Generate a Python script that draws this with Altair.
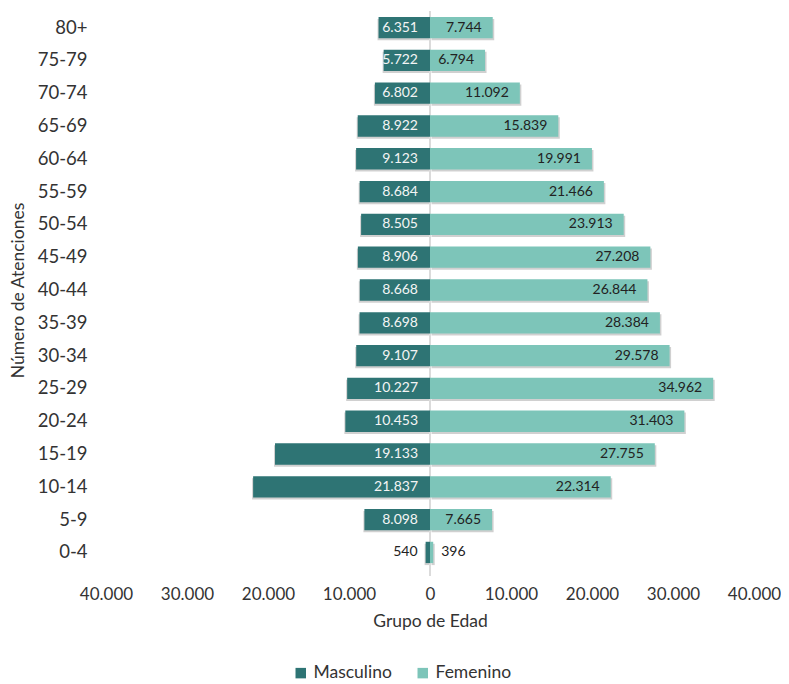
import altair as alt
import pandas as pd

ages = ["80+", "75-79", "70-74", "65-69", "60-64", "55-59", "50-54", "45-49", "40-44",
        "35-39", "30-34", "25-29", "20-24", "15-19", "10-14", "5-9", "0-4"]
masculino = [6351, 5722, 6802, 8922, 9123, 8684, 8505, 8906, 8668, 8698, 9107, 10227,
             10453, 19133, 21837, 8098, 540]
femenino = [7744, 6794, 11092, 15839, 19991, 21466, 23913, 27208, 26844, 28384, 29578,
            34962, 31403, 27755, 22314, 7665, 396]
series = ["Masculino", "Femenino"]
colors = ["#2E7474", "#7DC5B9"]
x_ticks = [-40000, -30000, -20000, -10000, 0, 10000, 20000, 30000, 40000]

rows = []
for a, m, f in zip(ages, masculino, femenino):
    rows.append({"edad": a, "sexo": "Masculino", "valor": -m, "abs": m})
    rows.append({"edad": a, "sexo": "Femenino", "valor": f, "abs": f})
df = pd.DataFrame(rows)

FONT = "Lato"
fmt = "replace(format(abs(datum.value), ','), ',', '.')"
lblfmt = "replace(format(datum.abs, ','), ',', '.')"
xscale = alt.Scale(domain=[-40000, 40000], nice=False)

x = alt.X("valor:Q", scale=xscale,
          axis=alt.Axis(values=x_ticks, labelExpr=fmt, grid=False, ticks=False, domain=False,
                        labelFlush=False, labelFontSize=17, labelFont=FONT, labelColor="#333",
                        labelPadding=17, title="Grupo de Edad", titleFont=FONT,
                        titleFontSize=17.5, titleFontWeight="normal", titleColor="#333",
                        titlePadding=10))
y = alt.Y("edad:N", sort=ages, scale=alt.Scale(paddingInner=0.35, paddingOuter=0.18),
          axis=alt.Axis(ticks=False, domain=False, grid=False, labelFontSize=18.5,
                        labelFont=FONT, labelColor="#333", labelPadding=19,
                        title="Número de Atenciones", titleFont=FONT,
                        titleFontSize=17.5, titleFontWeight="normal", titleColor="#333",
                        titlePadding=10))

base = alt.Chart(df)

shadow_m = base.transform_filter("datum.sexo == 'Masculino'").mark_bar(
    color="#777", opacity=0.35, xOffset=-1, yOffset=2).encode(x=x, y=y)
shadow_f = base.transform_filter("datum.sexo == 'Femenino'").mark_bar(
    color="#777", opacity=0.35, xOffset=1.5, yOffset=2).encode(x=x, y=y)

bars = base.mark_bar().encode(
    x=x, y=y,
    color=alt.Color("sexo:N", scale=alt.Scale(domain=series, range=colors),
                    legend=alt.Legend(title=None, orient="none", direction="horizontal",
                                      legendX=186, legendY=653, symbolType="square",
                                      symbolSize=110, symbolStrokeWidth=0,
                                      labelFontSize=17.5, labelFont=FONT,
                                      labelColor="#333", columnPadding=22,
                                      symbolOffset=0, labelOffset=4)))

zero = alt.Chart(pd.DataFrame({"z": [0]})).mark_rule(color="#cfcfcf", strokeWidth=1.5).encode(
    x=alt.X("z:Q", scale=xscale),
    y=alt.value(0), y2=alt.value(565))

txt_m_in = base.transform_filter("datum.sexo == 'Masculino' && datum.abs >= 3000").transform_calculate(
    lab=lblfmt, z="0").mark_text(align="right", dx=-12, fontSize=14, font=FONT, color="#f4f4f4").encode(
    x=alt.X("z:Q"), y=y, text="lab:N")
txt_m_out = base.transform_filter("datum.sexo == 'Masculino' && datum.abs < 3000").transform_calculate(
    lab=lblfmt).mark_text(align="right", dx=-8, fontSize=14, font=FONT, color="#222").encode(
    x=x, y=y, text="lab:N")
txt_f_in = base.transform_filter("datum.sexo == 'Femenino' && datum.abs >= 3000").transform_calculate(
    lab=lblfmt).mark_text(align="right", dx=-11, fontSize=14, font=FONT, color="#222").encode(
    x=x, y=y, text="lab:N")
txt_f_out = base.transform_filter("datum.sexo == 'Femenino' && datum.abs < 3000").transform_calculate(
    lab=lblfmt).mark_text(align="left", dx=8, fontSize=14, font=FONT, color="#222").encode(
    x=x, y=y, text="lab:N")

chart = alt.layer(shadow_m, shadow_f, zero, bars, txt_m_in, txt_m_out, txt_f_in, txt_f_out).properties(
    width=648, height=558,
    background="white",
    autosize=alt.AutoSizeParams(type="none"),
    padding={"left": 98, "top": 3, "right": 27, "bottom": 115},
).configure_view(strokeWidth=0, stroke="transparent")

chart.save("out.html", embed_options={"renderer": "svg", "actions": False})
